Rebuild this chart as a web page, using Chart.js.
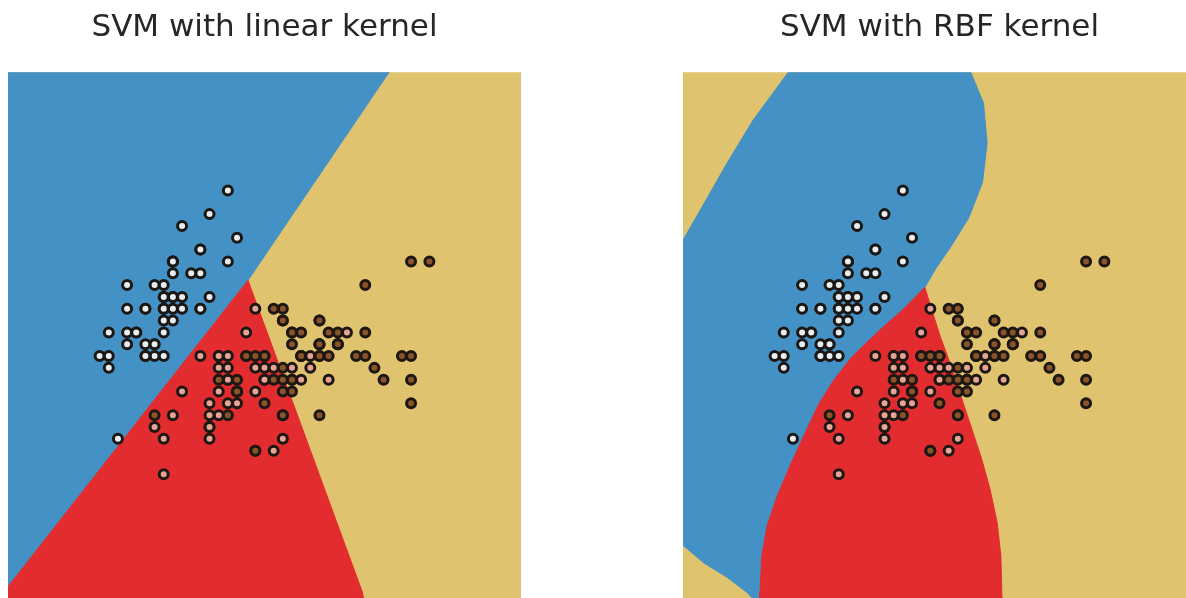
<!DOCTYPE html>
<html>
<head>
<meta charset="utf-8">
<script src="https://cdn.jsdelivr.net/npm/chart.js@4.4.0/dist/chart.umd.min.js"></script>
<style>
  html, body { margin: 0; padding: 0; background: #fff; overflow: hidden; width: 1186px; height: 598px; }
  .panel { position: absolute; top: 0; }
</style>
</head>
<body>
<div class="panel" style="left:0px"><canvas id="linearChart" width="529" height="606"></canvas></div>
<div class="panel" style="left:675px"><canvas id="rbfChart" width="529" height="606"></canvas></div>
<script>
// axis limits (sepal length / sepal width); the bottom of the figure is cut off
let xRange = [3.3, 8.9];
let yRange = [0.95, 5.4];

// iris samples [sepal length, sepal width]
let setosa = [[5.1,3.5],[4.9,3.0],[4.7,3.2],[4.6,3.1],[5.0,3.6],[5.4,3.9],[4.6,3.4],[5.0,3.4],[4.4,2.9],[4.9,3.1],
  [5.4,3.7],[4.8,3.4],[4.8,3.0],[4.3,3.0],[5.8,4.0],[5.7,4.4],[5.4,3.9],[5.1,3.5],[5.7,3.8],[5.1,3.8],
  [5.4,3.4],[5.1,3.7],[4.6,3.6],[5.1,3.3],[4.8,3.4],[5.0,3.0],[5.0,3.4],[5.2,3.5],[5.2,3.4],[4.7,3.2],
  [4.8,3.1],[5.4,3.4],[5.2,4.1],[5.5,4.2],[4.9,3.1],[5.0,3.2],[5.5,3.5],[4.9,3.6],[4.4,3.0],[5.1,3.4],
  [5.0,3.5],[4.5,2.3],[4.4,3.2],[5.0,3.5],[5.1,3.8],[4.8,3.0],[5.1,3.8],[4.6,3.2],[5.3,3.7],[5.0,3.3]];
let versicolor = [[7.0,3.2],[6.4,3.2],[6.9,3.1],[5.5,2.3],[6.5,2.8],[5.7,2.8],[6.3,3.3],[4.9,2.4],[6.6,2.9],[5.2,2.7],
  [5.0,2.0],[5.9,3.0],[6.0,2.2],[6.1,2.9],[5.6,2.9],[6.7,3.1],[5.6,3.0],[5.8,2.7],[6.2,2.2],[5.6,2.5],
  [5.9,3.2],[6.1,2.8],[6.3,2.5],[6.1,2.8],[6.4,2.9],[6.6,3.0],[6.8,2.8],[6.7,3.0],[6.0,2.9],[5.7,2.6],
  [5.5,2.4],[5.5,2.4],[5.8,2.7],[6.0,2.7],[5.4,3.0],[6.0,3.4],[6.7,3.1],[6.3,2.3],[5.6,3.0],[5.5,2.5],
  [5.5,2.6],[6.1,3.0],[5.8,2.6],[5.0,2.3],[5.6,2.7],[5.7,3.0],[5.7,2.9],[6.2,2.9],[5.1,2.5],[5.7,2.8]];
let virginica = [[6.3,3.3],[5.8,2.7],[7.1,3.0],[6.3,2.9],[6.5,3.0],[7.6,3.0],[4.9,2.5],[7.3,2.9],[6.7,2.5],[7.2,3.6],
  [6.5,3.2],[6.4,2.7],[6.8,3.0],[5.7,2.5],[5.8,2.8],[6.4,3.2],[6.5,3.0],[7.7,3.8],[7.7,2.6],[6.0,2.2],
  [6.9,3.2],[5.6,2.8],[7.7,2.8],[6.3,2.7],[6.7,3.3],[7.2,3.2],[6.2,2.8],[6.1,3.0],[6.4,2.8],[7.2,3.0],
  [7.4,2.8],[7.9,3.8],[6.4,2.8],[6.3,2.8],[6.1,2.6],[7.7,3.0],[6.3,3.4],[6.4,3.1],[6.0,3.0],[6.9,3.1],
  [6.7,3.1],[6.9,3.1],[5.8,2.7],[6.8,3.2],[6.7,3.3],[6.7,3.0],[6.3,2.5],[6.5,3.0],[6.2,3.4],[5.9,3.0]];

// decision region outlines (data units)
let frame = [[3.3,0.9],[8.9,0.9],[8.9,5.4],[3.3,5.4]];
let linearBlue = [[3.3,5.4],[7.46,5.4],[5.92,3.64],[3.3,1.05]];
let linearRed = [[5.92,3.64],[7.17,1.0],[7.19,0.9],[3.3,0.9],[3.3,1.05]];
let rbfBlue = [[4.45,5.4],[6.44,5.4],[6.58,5.14],[6.62,4.80],[6.57,4.47],[6.42,4.17],[6.22,3.92],[6.06,3.74],
  [5.94,3.58],[5.5,2.0],[5.5,0.9],[4.12,0.9],[4.0,1.0],[3.78,1.13],[3.53,1.25],[3.3,1.4],[3.3,3.98],
  [3.53,4.29],[3.78,4.63],[4.07,5.0]];
let rbfRed = [[5.94,3.58],[5.71,3.40],[5.42,3.20],[5.14,2.99],[4.94,2.79],[4.78,2.59],[4.64,2.36],[4.49,2.11],
  [4.33,1.82],[4.22,1.57],[4.16,1.31],[4.14,1.0],[4.14,0.9],[6.785,0.9],[6.78,1.0],[6.77,1.31],[6.73,1.59],
  [6.65,1.88],[6.56,2.13],[6.45,2.39],[6.33,2.67],[6.22,2.93],[6.11,3.16],[6.02,3.38]];

let blueColor = '#4491c6';
let redColor = '#e32c2f';
let yellowColor = '#e0c36f';

function toXY(pairs) {
    return pairs.map((p) => ({ x: p[0], y: p[1] }));
}

function regionSet(pairs, color, order) {
    let pts = toXY(pairs);
    pts.push(pts[0]);
    return {
        data: pts,
        showLine: true,
        fill: 'shape',
        backgroundColor: color,
        borderColor: color,
        borderWidth: 1,
        pointRadius: 0,
        pointHoverRadius: 0,
        order: order
    };
}

function pointSet(pairs, color, order) {
    return {
        data: toXY(pairs),
        backgroundColor: color,
        borderColor: '#1c1712',
        borderWidth: 3,
        pointRadius: 4.5,
        pointHoverRadius: 4.5,
        order: order
    };
}

function drawPanel(id, title, blue, red) {
    let ctx = document.getElementById(id).getContext('2d');
    return new Chart(ctx, {
        type: 'scatter',
        data: {
            datasets: [
                pointSet(virginica, '#8a5428', 0),
                pointSet(versicolor, '#e7a394', 1),
                pointSet(setosa, '#e6eef3', 2),
                regionSet(red, redColor, 3),
                regionSet(blue, blueColor, 4),
                regionSet(frame, yellowColor, 5)
            ]
        },
        options: {
            responsive: false,
            animation: false,
            layout: { padding: { left: 8, right: 8, top: 0, bottom: 0 } },
            scales: {
                x: { type: 'linear', min: xRange[0], max: xRange[1], display: false },
                y: { type: 'linear', min: yRange[0], max: yRange[1], display: false }
            },
            plugins: {
                legend: { display: false },
                tooltip: { enabled: false },
                title: {
                    display: true,
                    text: title,
                    color: '#262626',
                    font: { family: "'DejaVu Sans', sans-serif", size: 31, weight: 'normal' },
                    padding: { top: 9, bottom: 26 }
                }
            }
        }
    });
}

drawPanel('linearChart', 'SVM with linear kernel', linearBlue, linearRed);
drawPanel('rbfChart', 'SVM with RBF kernel', rbfBlue, rbfRed);
</script>
</body>
</html>
